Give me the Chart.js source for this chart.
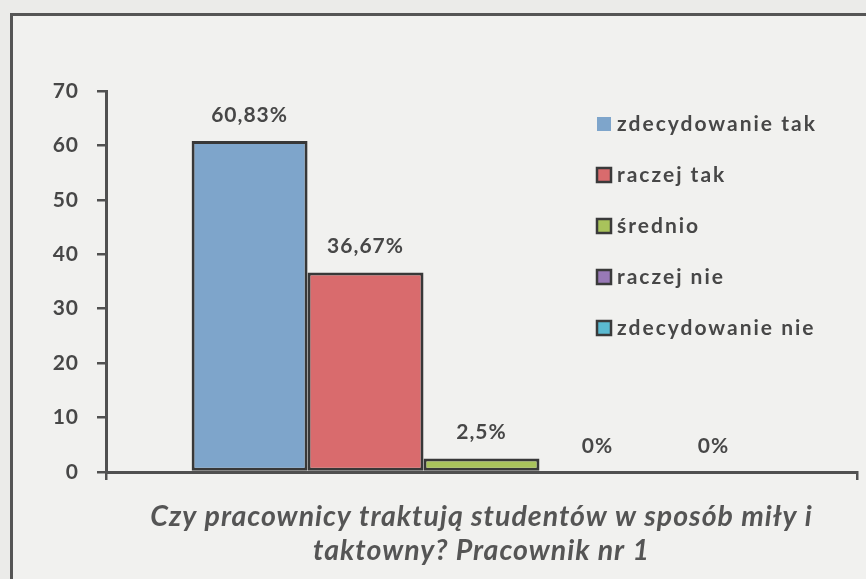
<!DOCTYPE html>
<html>
<head>
<meta charset="utf-8">
<script src="https://cdn.jsdelivr.net/npm/chart.js@4.4.1/dist/chart.umd.min.js"></script>
<style>
  html, body { margin: 0; padding: 0; background: #f1f1ef; overflow: hidden; }
  #wrap { width: 866px; height: 579px; }
</style>
</head>
<body>
<div id="wrap"><canvas id="chart"></canvas></div>
<script>
const categories = ["Pracownik nr 1"];
const seriesNames = ["zdecydowanie tak", "raczej tak", "średnio", "raczej nie", "zdecydowanie nie"];
const seriesValues = [[60.83], [36.67], [2.5], [0], [0]];
const valueLabels = ["60,83%", "36,67%", "2,5%", "0%", "0%"];
const seriesColors = ["#7ea5cb", "#d96b6d", "#a9c35b", "#9879b6", "#5bbad1"];
const yMin = 0, yMax = 70, yStep = 10;
const axisTitle = ["Czy pracownicy traktują studentów w sposób miły i", "taktowny? Pracownik nr 1"];

const textColor = "#474747";
const lineColor = "#505050";

// page frame: only top and left edges are visible in the scan
const framePlugin = {
    id: "frame",
    beforeDraw(chart) {
        const ctx = chart.ctx;
        ctx.save();
        ctx.fillStyle = "#ebebe9";
        ctx.fillRect(0, 0, chart.width, 13);
        ctx.fillRect(0, 0, 10, chart.height);
        ctx.fillStyle = "#555";
        ctx.fillRect(10, 13, chart.width - 10, 3);
        ctx.fillRect(10, 13, 3, chart.height - 13);
        ctx.restore();
        ctx.letterSpacing = "1px";
    },
};

// labels above each bar
const valueLabelPlugin = {
    id: "valueLabels",
    afterDatasetsDraw(chart) {
        const ctx = chart.ctx;
        ctx.save();
        ctx.font = "bold 21px Lato";
        ctx.letterSpacing = "1px";
        ctx.fillStyle = textColor;
        ctx.textAlign = "center";
        ctx.textBaseline = "middle";
        chart.data.datasets.forEach((ds, i) => {
            chart.getDatasetMeta(i).data.forEach((bar) => {
                ctx.fillText(valueLabels[i], bar.x, bar.y - 26);
            });
        });
        ctx.restore();
    },
};

// legend drawn inside the plot, like the original
const sideLegendPlugin = {
    id: "sideLegend",
    afterDraw(chart) {
        const ctx = chart.ctx;
        ctx.save();
        ctx.font = "bold 21px Lato";
        ctx.letterSpacing = "2px";
        ctx.textBaseline = "middle";
        ctx.textAlign = "left";
        chart.data.datasets.forEach((ds, i) => {
            const y = 124 + i * 51;
            ctx.fillStyle = ds.backgroundColor;
            ctx.fillRect(597, y - 7, 14, 14);
            if (i > 0) {
                ctx.strokeStyle = "#3a3a3a";
                ctx.lineWidth = 2.5;
                ctx.strokeRect(597, y - 7, 14, 14);
            }
            ctx.fillStyle = textColor;
            ctx.fillText(ds.label, 617, y);
        });
        ctx.restore();
    },
};

new Chart(document.getElementById("chart"), {
    type: "bar",
    data: {
        labels: categories,
        datasets: seriesNames.map((name, i) => ({
            label: name,
            data: seriesValues[i],
            backgroundColor: seriesColors[i],
            borderColor: "#383838",
            borderWidth: 3,
            borderSkipped: false,
            barPercentage: 1,
            categoryPercentage: 0.772,
        })),
    },
    options: {
        responsive: true,
        maintainAspectRatio: false,
        animation: false,
        layout: { padding: { top: 91, right: 9, left: 0, bottom: 0 } },
        plugins: {
            legend: { display: false },
            tooltip: { enabled: false },
        },
        scales: {
            x: {
                offset: true,
                afterFit: (scale) => { scale.height = 107; },
                ticks: { display: false },
                grid: { drawOnChartArea: false, drawTicks: true, tickLength: 8, color: lineColor, lineWidth: 2.5, offset: true },
                border: { display: true, color: lineColor, width: 3 },
                title: {
                    display: true,
                    text: axisTitle,
                    color: "#555",
                    font: { family: "Lato", size: 28.5, style: "italic", weight: "bold", lineHeight: 1.2 },
                    padding: { top: 0, bottom: 11 },
                },
            },
            y: {
                min: yMin,
                max: yMax,
                afterFit: (scale) => { scale.width = 106; },
                ticks: {
                    stepSize: yStep,
                    color: textColor,
                    padding: 18,
                    font: { family: "Lato", size: 21, weight: "bold" },
                },
                grid: { drawOnChartArea: false, drawTicks: true, tickLength: 9, color: lineColor, lineWidth: 2.5 },
                border: { display: true, color: lineColor, width: 3 },
            },
        },
    },
    plugins: [framePlugin, valueLabelPlugin, sideLegendPlugin],
});
</script>
</body>
</html>
